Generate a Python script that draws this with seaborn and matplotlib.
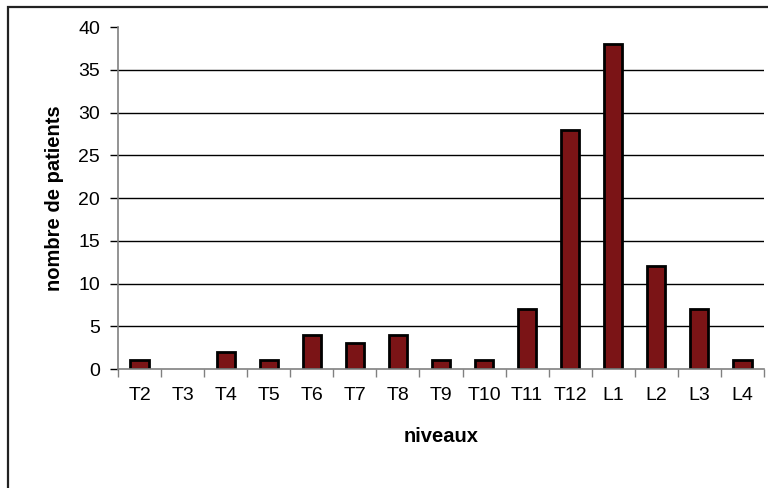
import numpy as np
import pandas as pd
import seaborn as sns
import matplotlib.pyplot as plt
from matplotlib.patches import Rectangle

# Data
niveaux = ["T2", "T3", "T4", "T5", "T6", "T7", "T8", "T9", "T10", "T11",
           "T12", "L1", "L2", "L3", "L4"]
patients = [1, 0, 2, 1, 4, 3, 4, 1, 1, 7, 28, 38, 12, 7, 1]

df = pd.DataFrame({"niveaux": niveaux, "patients": patients})

sns.set_style("white")
plt.rcParams['font.family'] = ['Liberation Sans', 'DejaVu Sans']
plt.rcParams['text.color'] = 'black'
plt.rcParams['xtick.color'] = 'black'
plt.rcParams['ytick.color'] = 'black'

fig = plt.figure(figsize=(7.68, 4.88), dpi=100)
ax = fig.add_axes([118 / 768, 1 - 369 / 488, 646 / 768, 342 / 488])

sns.barplot(data=df, x="niveaux", y="patients", color="#7B1416",
            edgecolor="black", linewidth=2, width=0.42, saturation=1, ax=ax)
# empty bars draw nothing
for p in ax.patches:
    if p.get_height() == 0:
        p.set_linewidth(0)

ax.set_ylim(0, 40)
ax.set_xlim(-0.5, len(niveaux) - 0.5)
ax.set_yticks(range(0, 41, 5))
for v in range(5, 40, 5):
    ax.axhline(v, color="black", linewidth=1, zorder=0)

# tick marks between categories on x, labels centred
ax.set_xticks(np.arange(-0.5, len(niveaux), 1), minor=True)
ax.tick_params(axis="x", which="major", length=0, pad=13, labelsize=14,
               labelcolor="black")
ax.tick_params(axis="x", which="minor", length=6, width=1, color="#808080",
               direction="out", bottom=True)
ax.tick_params(axis="y", length=6, width=1, color="black", direction="out",
               left=True, pad=7, labelsize=14, labelcolor="black")

for s in ["top", "right"]:
    ax.spines[s].set_visible(False)
for s in ["left", "bottom"]:
    ax.spines[s].set_color("#808080")
    ax.spines[s].set_linewidth(1.2)

ax.set_xlabel("")
ax.set_ylabel("")
fig.text(441 / 768, 1 - 436 / 488, "niveaux", ha="center", va="center",
         fontsize=14.5, fontweight="bold", color="black")
fig.text(55 / 768, 1 - 198 / 488, "nombre de patients", ha="center",
         va="center", rotation=90, fontsize=14.5, fontweight="bold",
         color="black")

# outer chart border
fig.patches.append(Rectangle((8 / 768, -0.1), 1.1, 1 - 7 / 488 + 0.1,
                             transform=fig.transFigure, fill=False,
                             edgecolor="#222222", linewidth=1.6))

fig.savefig("out.png", dpi=100)
